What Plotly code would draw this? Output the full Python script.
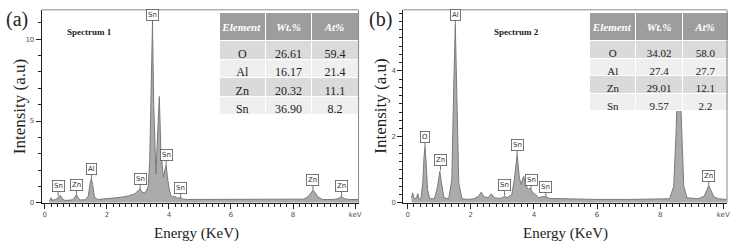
import plotly.graph_objects as go

# ---------------- data ----------------
energy_a = [0.15, 0.2, 0.25, 0.35, 0.43, 0.5, 0.55, 0.62, 0.75, 0.9, 0.97, 1.02, 1.07, 1.15, 1.3,
            1.4, 1.46, 1.5, 1.54, 1.6, 1.7, 1.9, 2.1, 2.3, 2.5, 2.7, 2.9, 3.0, 3.07, 3.13, 3.2,
            3.27, 3.33, 3.38, 3.43, 3.47, 3.51, 3.55, 3.58, 3.62, 3.69, 3.74, 3.78, 3.82, 3.87,
            3.91, 3.95, 4.0, 4.06, 4.12, 4.18, 4.28, 4.38, 4.45, 4.6, 5.0, 5.5, 6.0, 6.5, 7.0,
            7.5, 8.0, 8.35, 8.5, 8.6, 8.64, 8.7, 8.8, 8.95, 9.3, 9.45, 9.56, 9.65, 9.8, 10.1]
intensity_a = [0.1, 0.3, 0.15, 0.2, 0.3, 0.45, 0.3, 0.15, 0.15, 0.18, 0.35, 0.5, 0.3, 0.17, 0.18,
               0.4, 1.2, 1.45, 1.1, 0.35, 0.2, 0.22, 0.27, 0.3, 0.35, 0.42, 0.55, 0.75, 0.85, 0.65, 0.6,
               0.7, 1.0, 2.5, 6.5, 11.0, 6.0, 2.8, 1.75, 3.5, 6.5, 3.2, 2.3, 1.55, 2.0,
               2.3, 1.6, 0.9, 0.45, 0.35, 0.4, 0.28, 0.3, 0.22, 0.2, 0.2, 0.2, 0.2, 0.2, 0.2,
               0.2, 0.2, 0.22, 0.4, 0.7, 0.76, 0.65, 0.35, 0.2, 0.2, 0.25, 0.38, 0.25, 0.2, 0.2]

energy_b = [0.12, 0.16, 0.2, 0.28, 0.32, 0.36, 0.42, 0.48, 0.52, 0.55, 0.58, 0.63, 0.7, 0.85, 0.95,
            1.02, 1.07, 1.15, 1.3, 1.4, 1.46, 1.51, 1.56, 1.62, 1.72, 1.9, 2.1, 2.25, 2.33, 2.42,
            2.55, 2.65, 2.75, 2.9, 3.0, 3.07, 3.15, 3.3, 3.38, 3.47, 3.54, 3.6, 3.65, 3.68, 3.74,
            3.82, 3.87, 3.91, 3.97, 4.05, 4.15, 4.25, 4.38, 4.5, 4.8, 5.0, 5.5, 6.0, 7.0, 8.0,
            8.3, 8.43, 8.5, 8.59, 8.68, 8.75, 8.85, 9.2, 9.4, 9.48, 9.54, 9.6, 9.7, 9.85, 10.1]
intensity_b = [0.15, 0.3, 0.12, 0.15, 0.28, 0.12, 0.12, 0.6, 1.4, 1.7, 1.3, 0.4, 0.12, 0.12, 0.5,
               0.95, 0.6, 0.15, 0.12, 0.7, 3.5, 5.4, 3.2, 0.6, 0.12, 0.1, 0.12, 0.2, 0.32, 0.18,
               0.15, 0.27, 0.15, 0.13, 0.15, 0.2, 0.15, 0.25, 0.7, 1.46, 0.75, 0.55, 0.75, 0.8, 0.55,
               0.4, 0.45, 0.4, 0.3, 0.25, 0.15, 0.18, 0.18, 0.13, 0.12, 0.12, 0.1, 0.1, 0.1, 0.1,
               0.12, 0.5, 2.0, 4.6, 2.0, 0.5, 0.15, 0.12, 0.2, 0.4, 0.52, 0.4, 0.18, 0.12, 0.1]

peak_labels_a = ["Sn", "Zn", "Al", "Sn", "Sn", "Sn", "Sn", "Zn", "Zn"]
peak_x_a = [0.43, 1.02, 1.5, 3.07, 3.47, 3.91, 4.38, 8.64, 9.56]
peak_y_a = [0.4, 0.5, 1.45, 0.85, 10.9, 2.3, 0.28, 0.76, 0.4]

peak_labels_b = ["O", "Zn", "Al", "Sn", "Sn", "Sn", "Sn", "Zn"]
peak_x_b = [0.55, 1.04, 1.51, 3.07, 3.47, 3.91, 4.38, 9.54]
peak_y_b = [1.7, 0.98, 5.4, 0.22, 1.46, 0.4, 0.18, 0.52]

table_cols = ["Element", "Wt.%", "At%"]
elements = ["O", "Al", "Zn", "Sn"]
wt_a = ["26.61", "16.17", "20.32", "36.90"]
at_a = ["59.4", "21.4", "11.1", "8.2"]
wt_b = ["34.02", "27.4", "29.01", "9.57"]
at_b = ["58.0", "27.7", "12.1", "2.2"]

W, H = 740, 252
def px(x):
    return x / W
def py(y):
    return 1 - y / H

SERIF = "Liberation Serif"
fig = go.Figure()

fill_col = "#ababab"
line_col = "#7a7a7a"
fig.add_trace(go.Scatter(x=energy_a, y=intensity_a, mode="lines", fill="tozeroy",
                         fillcolor=fill_col, line=dict(color=line_col, width=1),
                         xaxis="x", yaxis="y", showlegend=False, hoverinfo="skip"))
fig.add_trace(go.Scatter(x=energy_b, y=intensity_b, mode="lines", fill="tozeroy",
                         fillcolor=fill_col, line=dict(color=line_col, width=1),
                         xaxis="x2", yaxis="y2", showlegend=False, hoverinfo="skip"))

row_fill = [["#dadada", "#efefef", "#dadada", "#efefef"]] * 3
def add_table(xdom, ydom, wt, at, fsize, hh, ch):
    fig.add_trace(go.Table(
        domain=dict(x=xdom, y=ydom),
        columnwidth=[1, 1, 1],
        header=dict(values=["<b><i>%s</i></b>" % c for c in table_cols],
                    fill_color="#9d9d9d", line=dict(color="#ffffff", width=1),
                    font=dict(family=SERIF, size=11, color="white"),
                    align="center", height=hh),
        cells=dict(values=[elements, wt, at], fill_color=row_fill,
                   line=dict(color="#ffffff", width=1),
                   font=dict(family=SERIF, size=fsize, color="#222"),
                   align="center", height=ch)))

add_table([px(220), px(360)], [py(140), py(13)], wt_a, at_a, 12, 28, 18.5)
add_table([px(592), px(732)], [py(135), py(13)], wt_b, at_b, 11, 24, 17.5)

tickfont = dict(family="DejaVu Sans", size=7, color="#555")
def xax(dom, rng, anchor):
    return dict(domain=dom, range=rng, anchor=anchor, showline=True, linecolor="#222", linewidth=1.2,
                ticks="outside", ticklen=5, tickwidth=1, tickcolor="#222",
                tickmode="linear", tick0=0, dtick=2, labelalias={"10": "keV"},
                minor=dict(ticks="outside", dtick=0.2, tick0=0, ticklen=3, tickcolor="#222"),
                showgrid=False, zeroline=False, tickfont=tickfont, fixedrange=True)
def yax(anchor, rng, dt, mdt):
    return dict(domain=[py(206), py(10)], range=rng, anchor=anchor, showline=True,
                linecolor="#222", linewidth=1.2, ticks="outside", ticklen=5, tickwidth=1,
                tickcolor="#222", tickmode="linear", tick0=0, dtick=dt,
                minor=dict(ticks="outside", dtick=mdt, tick0=0, ticklen=3, tickcolor="#222"),
                showgrid=False, zeroline=False, tickfont=tickfont, fixedrange=True)

annotations = []
def add_labels(labels, xs, ys, xr, yr):
    for t, x, y in zip(labels, xs, ys):
        annotations.append(dict(x=x, y=y, xref=xr, yref=yr, text=t, showarrow=True,
                                arrowhead=0, arrowwidth=0.8, arrowcolor="#555", ax=0, ay=-10,
                                font=dict(family="DejaVu Sans", size=7, color="#333"),
                                bordercolor="#555", borderwidth=0.8, borderpad=1.2,
                                bgcolor="white"))
add_labels(peak_labels_a, peak_x_a, peak_y_a, "x", "y")
add_labels(peak_labels_b, peak_x_b, peak_y_b, "x2", "y2")

def text(x, y, t, size, angle=0, bold=False):
    annotations.append(dict(x=px(x), y=py(y), xref="paper", yref="paper", text=t,
                            showarrow=False, textangle=angle, xanchor="center", yanchor="middle",
                            font=dict(family=SERIF, size=size, color="#222",
                                      weight="bold" if bold else "normal")))

text(17, 20, "(a)", 20)
text(382, 20, "(b)", 20)
text(90, 33, "Spectrum 1", 9, bold=True)
text(519, 33, "Spectrum 2", 9, bold=True)
text(19, 108, "Intensity (a.u)", 17, angle=-90)
text(382, 108, "Intensity (a.u)", 17, angle=-90)
text(197, 237, "Energy (KeV)", 15)
text(568, 237, "Energy (KeV)", 15)

shapes = []
for xr in ["x", "x2"]:
    yr = "y" if xr == "x" else "y2"
    shapes.append(dict(type="line", xref=xr + " domain", yref=yr + " domain",
                       x0=0, x1=1, y0=1, y1=1, line=dict(color="#8a8a8a", width=1)))
    shapes.append(dict(type="line", xref=xr + " domain", yref=yr + " domain",
                       x0=1, x1=1, y0=0, y1=1, line=dict(color="#8a8a8a", width=1)))

fig.update_layout(
    width=W, height=H, margin=dict(l=0, r=0, t=0, b=0),
    paper_bgcolor="white", plot_bgcolor="white", showlegend=False,
    xaxis=xax([px(42), px(360)], [-0.096, 10.11], "y"),
    xaxis2=xax([px(405), px(730)], [-0.136, 10.12], "y2"),
    yaxis=yax("x", [0, 11.8], 5, 1),
    yaxis2=yax("x2", [0, 5.85], 2, 0.25),
    annotations=annotations, shapes=shapes,
)

fig.write_html("out.html")
